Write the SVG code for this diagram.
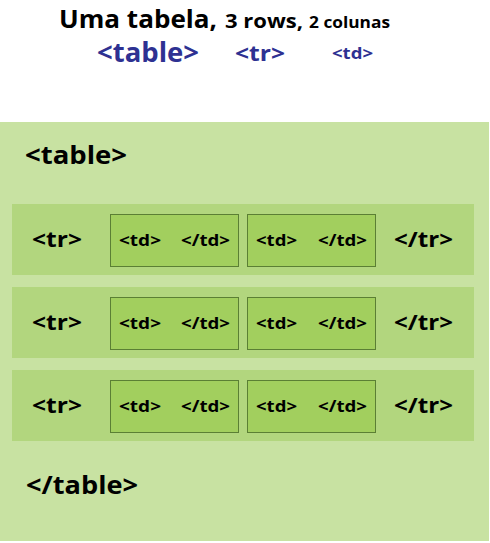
<svg xmlns="http://www.w3.org/2000/svg" width="490" height="543" viewBox="0 0 490 543">
<style>
.t{font-family:"Open Sans","Noto Sans","DejaVu Sans",sans-serif;font-weight:bold;}
.blk{fill:#000;}
.blue{fill:#2e3192;}
.outer{fill:#c8e2a2;}
.row{fill:#b2d67e;}
.cell{fill:#a2cf5e;stroke:#5b7f34;stroke-width:1;}
.tr{font-size:22px;}
.td{font-size:16px;}
</style>
<rect width="490" height="543" fill="#fff"/>
<g id="title">
<text class="t blk" x="59" y="27.5" font-size="25.5" textLength="158" lengthAdjust="spacingAndGlyphs">Uma tabela,</text>
<text class="t blk" x="225" y="27.5" font-size="20" textLength="78" lengthAdjust="spacingAndGlyphs">3 rows,</text>
<text class="t blk" x="309" y="27.5" font-size="16" textLength="81" lengthAdjust="spacingAndGlyphs">2 colunas</text>
</g>
<g id="legend">
<text class="t blue" x="97" y="62" font-size="26" textLength="102" lengthAdjust="spacingAndGlyphs">&lt;table&gt;</text>
<text class="t blue" x="235" y="61" font-size="22" textLength="50" lengthAdjust="spacingAndGlyphs">&lt;tr&gt;</text>
<text class="t blue" x="332" y="59" font-size="16" textLength="41" lengthAdjust="spacingAndGlyphs">&lt;td&gt;</text>
</g>
<g id="table">
<rect class="outer" x="0" y="122" width="489" height="419"/>
<text class="t blk" x="25" y="164" font-size="25" textLength="102" lengthAdjust="spacingAndGlyphs">&lt;table&gt;</text>
<text class="t blk" x="26" y="494" font-size="25" textLength="112" lengthAdjust="spacingAndGlyphs">&lt;/table&gt;</text>
</g>
<g id="row1">
<rect class="row" x="12" y="204" width="462" height="71"/>
<text class="t blk tr" x="32" y="247" textLength="50" lengthAdjust="spacingAndGlyphs">&lt;tr&gt;</text>
<text class="t blk tr" x="394" y="247" textLength="59" lengthAdjust="spacingAndGlyphs">&lt;/tr&gt;</text>
<rect class="cell" x="110.5" y="214.5" width="128" height="52"/>
<text class="t blk td" x="119" y="246" textLength="42" lengthAdjust="spacingAndGlyphs">&lt;td&gt;</text>
<text class="t blk td" x="181" y="246" textLength="49" lengthAdjust="spacingAndGlyphs">&lt;/td&gt;</text>
<rect class="cell" x="247.5" y="214.5" width="128" height="52"/>
<text class="t blk td" x="256" y="246" textLength="41" lengthAdjust="spacingAndGlyphs">&lt;td&gt;</text>
<text class="t blk td" x="318" y="246" textLength="49" lengthAdjust="spacingAndGlyphs">&lt;/td&gt;</text>
</g>
<g id="row2">
<rect class="row" x="12" y="287" width="462" height="71"/>
<text class="t blk tr" x="32" y="330" textLength="50" lengthAdjust="spacingAndGlyphs">&lt;tr&gt;</text>
<text class="t blk tr" x="394" y="330" textLength="59" lengthAdjust="spacingAndGlyphs">&lt;/tr&gt;</text>
<rect class="cell" x="110.5" y="297.5" width="128" height="52"/>
<text class="t blk td" x="119" y="329" textLength="42" lengthAdjust="spacingAndGlyphs">&lt;td&gt;</text>
<text class="t blk td" x="181" y="329" textLength="49" lengthAdjust="spacingAndGlyphs">&lt;/td&gt;</text>
<rect class="cell" x="247.5" y="297.5" width="128" height="52"/>
<text class="t blk td" x="256" y="329" textLength="41" lengthAdjust="spacingAndGlyphs">&lt;td&gt;</text>
<text class="t blk td" x="318" y="329" textLength="49" lengthAdjust="spacingAndGlyphs">&lt;/td&gt;</text>
</g>
<g id="row3">
<rect class="row" x="12" y="370" width="462" height="71"/>
<text class="t blk tr" x="32" y="413" textLength="50" lengthAdjust="spacingAndGlyphs">&lt;tr&gt;</text>
<text class="t blk tr" x="394" y="413" textLength="59" lengthAdjust="spacingAndGlyphs">&lt;/tr&gt;</text>
<rect class="cell" x="110.5" y="380.5" width="128" height="52"/>
<text class="t blk td" x="119" y="412" textLength="42" lengthAdjust="spacingAndGlyphs">&lt;td&gt;</text>
<text class="t blk td" x="181" y="412" textLength="49" lengthAdjust="spacingAndGlyphs">&lt;/td&gt;</text>
<rect class="cell" x="247.5" y="380.5" width="128" height="52"/>
<text class="t blk td" x="256" y="412" textLength="41" lengthAdjust="spacingAndGlyphs">&lt;td&gt;</text>
<text class="t blk td" x="318" y="412" textLength="49" lengthAdjust="spacingAndGlyphs">&lt;/td&gt;</text>
</g>
<g id="connectors"></g>
</svg>
